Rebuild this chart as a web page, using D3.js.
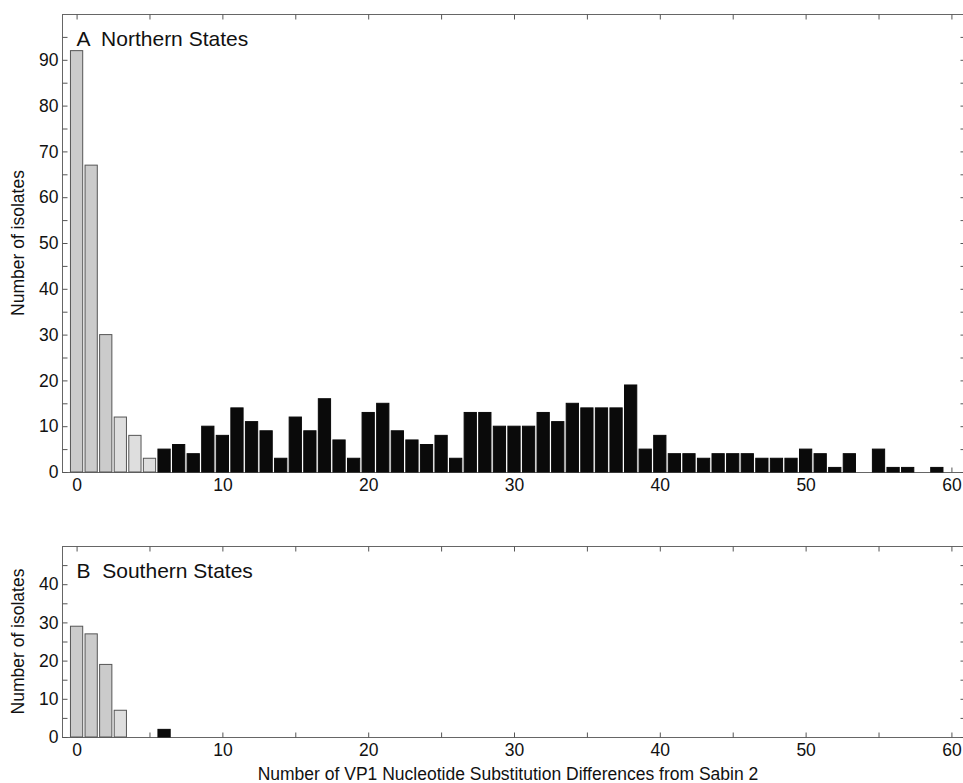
<!DOCTYPE html>
<html>
<head>
<meta charset="utf-8">
<script src="https://cdn.jsdelivr.net/npm/d3@7"></script>
<style>
  body { margin: 0; background: #fff; }
  svg { display: block; font-family: "Liberation Sans", Arial, sans-serif; }
  .axis path, .axis line { stroke: #555; }
  .axis text { fill: #111; font-size: 17.5px; }
</style>
</head>
<body>
<div id="chart"></div>
<script>
// substitution differences from Sabin 2 (0..60)
const differences = d3.range(0, 61);

// Northern states: isolates per number of differences
const northernCounts = [92, 67, 30, 12, 8, 3, 5, 6, 4, 10,
    8, 14, 11, 9, 3, 12, 9, 16, 7, 3,
    13, 15, 9, 7, 6, 8, 3, 13, 13, 10,
    10, 10, 13, 11, 15, 14, 14, 14, 19, 5,
    8, 4, 4, 3, 4, 4, 4, 3, 3, 3,
    5, 4, 1, 4, 0, 5, 1, 1, 0, 1,
    0];

// Southern states
const southernCounts = [29, 27, 19, 7, 0, 0, 2, 0, 0, 0,
    0, 0, 0, 0, 0, 0, 0, 0, 0, 0,
    0, 0, 0, 0, 0, 0, 0, 0, 0, 0,
    0, 0, 0, 0, 0, 0, 0, 0, 0, 0,
    0, 0, 0, 0, 0, 0, 0, 0, 0, 0,
    0, 0, 0, 0, 0, 0, 0, 0, 0, 0,
    0];

const xTicks = d3.range(0, 61, 5);
const xLabels = [0, 10, 20, 30, 40, 50, 60];
const lightCutoff = 6; // differences below this drawn in light gray

const panels = [
    {label: "A  Northern States", counts: northernCounts, yMax: 100, yLabels: d3.range(0, 91, 10), top: 14, bottom: 472},
    {label: "B  Southern States", counts: southernCounts, yMax: 50, yLabels: d3.range(0, 41, 10), top: 546, bottom: 737}
];

const width = 963, height = 783;
const left = 62, right = 966;

const svg = d3.select("#chart").append("svg")
    .attr("width", width)
    .attr("height", height);

const xScale = d3.scaleLinear()
    .domain([-1, 61])
    .range([left, right]);

const barW = (xScale(1) - xScale(0)) * 0.84;

panels.forEach(p => {
    const yScale = d3.scaleLinear()
        .domain([0, p.yMax])
        .range([p.bottom, p.top]);

    const g = svg.append("g");

    // frame
    g.append("rect")
        .attr("x", left + 0.5)
        .attr("y", p.top + 0.5)
        .attr("width", right - left)
        .attr("height", p.bottom - p.top)
        .attr("fill", "none")
        .attr("stroke", "#666")
        .attr("stroke-width", 1);

    const yTicks = d3.range(0, p.yMax, 5);

    g.append("g")
        .attr("class", "axis")
        .attr("transform", `translate(${left + 0.5},0)`)
        .call(d3.axisLeft(yScale).tickValues(yTicks).tickSize(-5).tickPadding(4)
            .tickFormat(d => p.yLabels.includes(d) ? d : ""))
        .call(a => a.select(".domain").remove());

    g.append("g")
        .attr("class", "axis")
        .attr("transform", `translate(${right - 0.5},0)`)
        .call(d3.axisRight(yScale).tickValues(yTicks).tickSize(-5).tickFormat(""))
        .call(a => a.select(".domain").remove());

    g.append("g")
        .attr("class", "axis")
        .attr("transform", `translate(0,${p.bottom + 0.5})`)
        .call(d3.axisBottom(xScale).tickValues(xTicks).tickSize(-5).tickPadding(6)
            .tickFormat(d => xLabels.includes(d) ? d : ""))
        .call(a => a.select(".domain").remove());

    g.append("g")
        .attr("class", "axis")
        .attr("transform", `translate(0,${p.top + 0.5})`)
        .call(d3.axisTop(xScale).tickValues(xTicks).tickSize(-5).tickFormat(""))
        .call(a => a.select(".domain").remove());

    const bars = differences.map(d => ({x: d, v: p.counts[d]}));

    g.selectAll("rect.bar")
        .data(bars.filter(d => d.v > 0))
        .join("rect")
        .attr("class", "bar")
        .attr("x", d => xScale(d.x) - barW / 2)
        .attr("y", d => yScale(d.v))
        .attr("width", barW)
        .attr("height", d => yScale(0) - yScale(d.v))
        .attr("fill", d => d.x < lightCutoff ? (d.x < 3 ? "#cbcbcb" : "#dedede") : "#0a0a0a")
        .attr("stroke", d => d.x < lightCutoff ? "#555" : "#0a0a0a")
        .attr("stroke-width", 1);

    g.append("text")
        .attr("x", xScale(0))
        .attr("y", p.top + 32)
        .attr("font-size", "21px")
        .attr("fill", "#111")
        .style("white-space", "pre")
        .text(p.label);

    g.append("text")
        .attr("transform", `translate(24, ${(p.top + p.bottom) / 2}) rotate(-90)`)
        .attr("text-anchor", "middle")
        .attr("font-size", "17.5px")
        .attr("fill", "#111")
        .text("Number of isolates");
});

svg.append("text")
    .attr("x", 508)
    .attr("y", 780)
    .attr("text-anchor", "middle")
    .attr("font-size", "17.5px")
    .attr("fill", "#111")
    .text("Number of VP1 Nucleotide Substitution Differences from Sabin 2");
</script>
</body>
</html>
